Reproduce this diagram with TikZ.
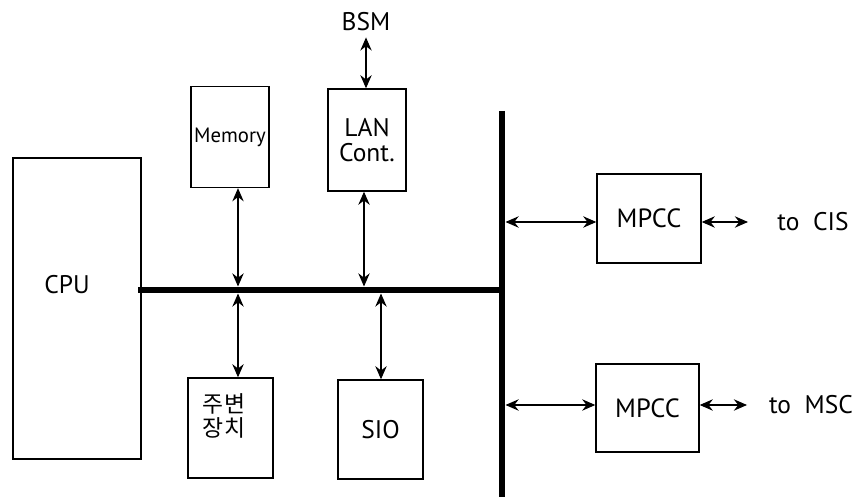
\documentclass[tikz,border=0pt]{standalone}
\usepackage{fontspec}
\setmainfont{PT Sans}
\newfontfamily\kofont{Noto Sans CJK KR}
\usetikzlibrary{arrows.meta,positioning}

\begin{document}
\begin{tikzpicture}[
  x=0.02cm, y=-0.02cm,
  box/.style={draw, line width=0.8pt, inner sep=0pt, align=center,
              font=\fontsize{14.5}{14}\selectfont},
  lbl/.style={align=center, font=\fontsize{14.5}{14}\selectfont},
  bus/.style={line width=3.8pt},
  biarr/.style={{Stealth[length=7.5pt,width=6.5pt,inset=2.5pt]}-{Stealth[length=7.5pt,width=6.5pt,inset=2.5pt]},
                line width=0.6pt},
]
\useasboundingbox (0,0) rectangle (855,499);

% boxes
\node[box, minimum width=2.56cm, minimum height=6.02cm] (cpu) at (77,308.5) {};
\node[lbl] (cputxt) at (67,285) {CPU};
\node[box, minimum width=1.56cm, minimum height=2.02cm,
      font=\fontsize{11.8}{12}\selectfont] (mem) at (230,137) {Memory};
\node[box, minimum width=1.56cm, minimum height=2.04cm] (lan) at (367,140) {LAN\\Cont.};
\node[lbl] (bsm) at (366,22) {BSM};
\node[box, minimum width=1.7cm, minimum height=2cm] (peri) at (230.5,428) {};
\node[lbl, font=\kofont\fontsize{13}{13.5}\selectfont] (peritxt) at (224,416) {주변\\장치};
\node[box, minimum width=1.7cm, minimum height=1.98cm] (sio) at (380.5,429.5) {SIO};
\node[box, minimum width=2.08cm, minimum height=1.78cm, font=\fontsize{15}{15}\selectfont] (mpcca) at (649,218.5) {MPCC};
\node[box, minimum width=2.06cm, minimum height=1.76cm, font=\fontsize{15}{15}\selectfont] (mpccb) at (647.5,408) {MPCC};
\node[lbl] (cis) at (813,222) {to~~CIS};
\node[lbl] (msc) at (811,405) {to~~MSC};

% buses
\coordinate (hbusL) at (138,290);
\coordinate (hbusR) at (505,290);
\coordinate (vbusT) at (502,111);
\coordinate (vbusB) at (502,497);
\draw[bus] (hbusL) -- (hbusR);
\draw[bus] (vbusT) -- (vbusB);

% taps on the buses
\coordinate (memtap) at (238,286.5);
\coordinate (lantap) at (364,286.5);
\coordinate (peritap) at (238,293.5);
\coordinate (siotap) at (381,293.5);
\coordinate (tapa) at (505.5,222);
\coordinate (tapb) at (505.5,405);
\coordinate (cisend) at (748,222);
\coordinate (mscend) at (747,405);

\draw[biarr] (bsm.south) -- (bsm.south |- lan.north);
\draw[biarr] (mem.south -| memtap) -- (memtap);
\draw[biarr] (lan.south -| lantap) -- (lantap);
\draw[biarr] (peritap) -- (peri.north -| peritap);
\draw[biarr] (siotap) -- (sio.north -| siotap);
\draw[biarr] (tapa) -- (mpcca.west |- tapa);
\draw[biarr] (tapb) -- (mpccb.west |- tapb);
\draw[biarr] (mpcca.east |- cisend) -- (cisend);
\draw[biarr] (mpccb.east |- mscend) -- (mscend);
\end{tikzpicture}
\end{document}
